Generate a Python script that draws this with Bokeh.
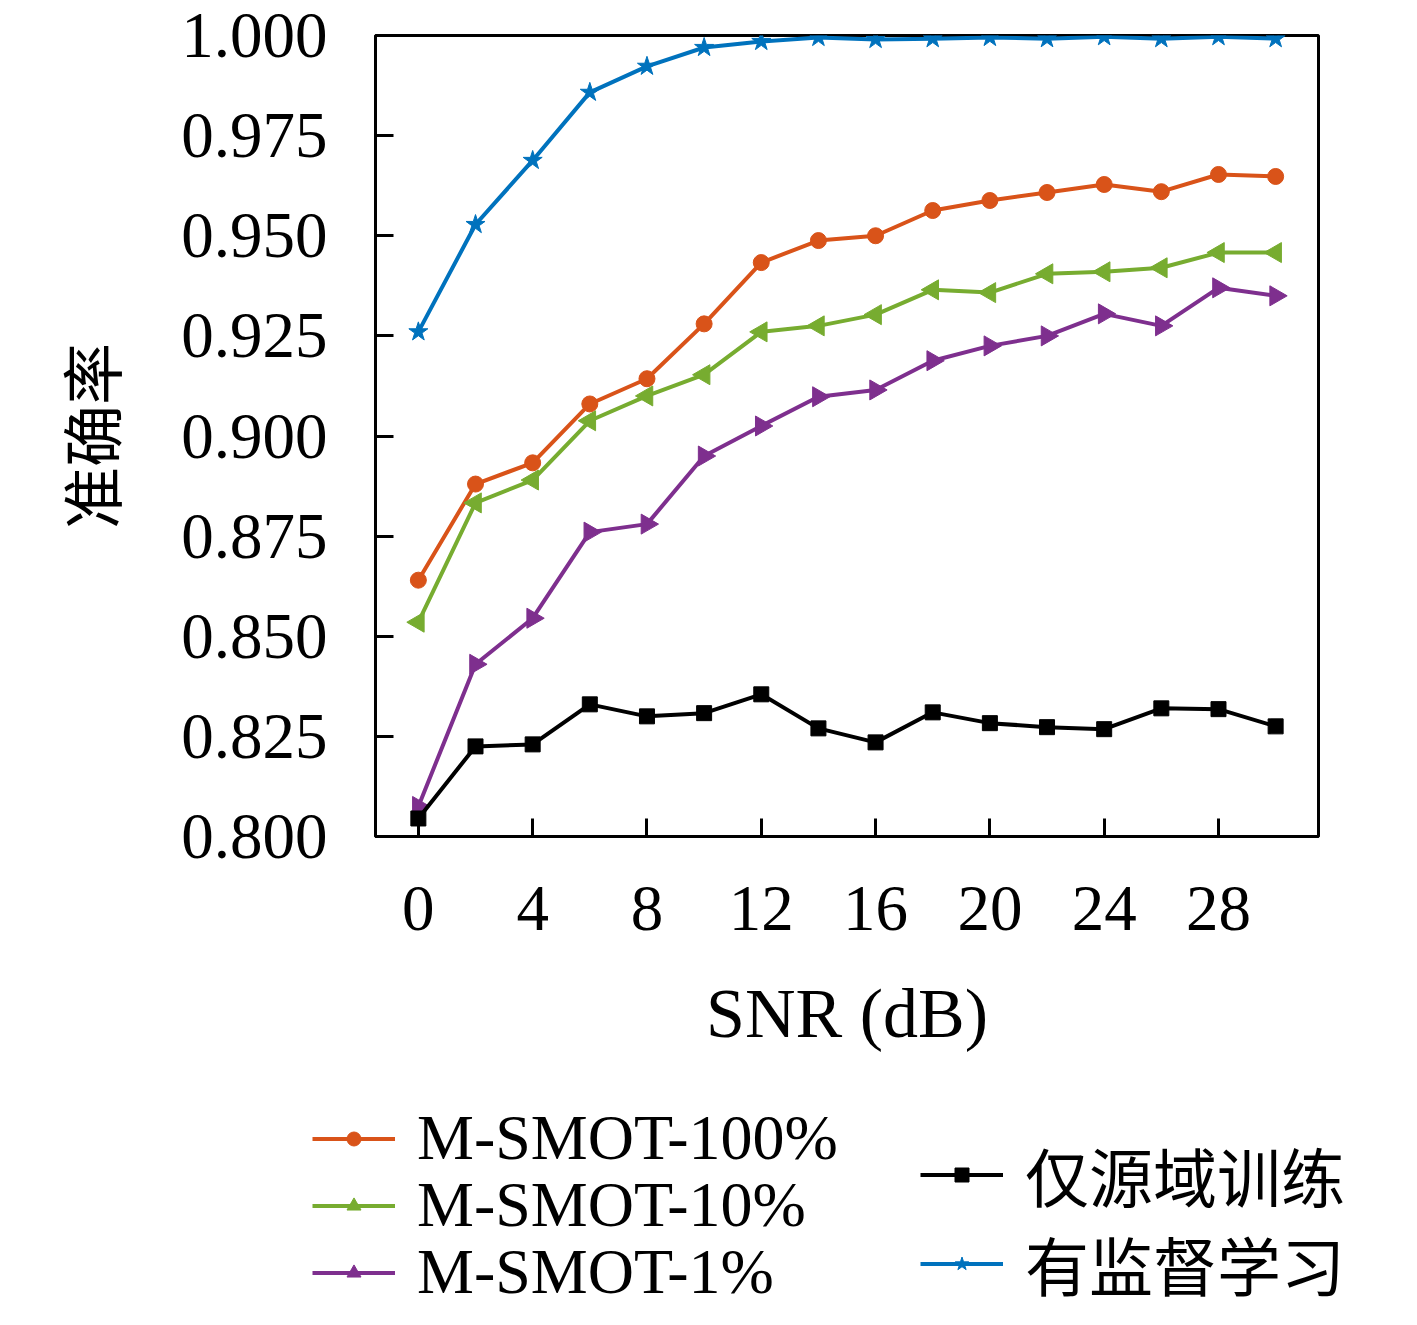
import math
from bokeh.plotting import figure
from bokeh.layouts import column, row
from bokeh.models import Legend, LegendItem, FixedTicker, PrintfTickFormatter, Range1d
from bokeh.embed import file_html
from bokeh.resources import INLINE

snr = [0, 2, 4, 6, 8, 10, 12, 14, 16, 18, 20, 22, 24, 26, 28, 30]
msmot_100 = [0.864, 0.888, 0.8933, 0.908, 0.9143, 0.928, 0.9433, 0.9488, 0.950, 0.9563,
             0.9588, 0.9608, 0.9628, 0.961, 0.9653, 0.9648]
msmot_10 = [0.8535, 0.8833, 0.889, 0.9038, 0.910, 0.9153, 0.926, 0.9275, 0.9303, 0.9365,
            0.9358, 0.9405, 0.941, 0.942, 0.9458, 0.9458]
msmot_1 = [0.8075, 0.843, 0.8545, 0.876, 0.878, 0.895, 0.9025, 0.9098, 0.9115, 0.9188,
           0.9225, 0.925, 0.9305, 0.9275, 0.937, 0.935]
source_only = [0.8045, 0.8225, 0.823, 0.833, 0.830, 0.8308, 0.8355, 0.827, 0.8235, 0.831,
               0.8283, 0.8273, 0.8268, 0.832, 0.8318, 0.8275]
supervised = [0.926, 0.9528, 0.9688, 0.9858, 0.9923, 0.997, 0.9985, 0.9995, 0.999, 0.9992,
              0.9995, 0.9992, 0.9997, 0.9992, 0.9997, 0.9992]

x_ticks = [0, 4, 8, 12, 16, 20, 24, 28]
y_ticks = [0.800, 0.825, 0.850, 0.875, 0.900, 0.925, 0.950, 0.975, 1.000]

labels = ["M-SMOT-100%", "M-SMOT-10%", "M-SMOT-1%", "仅源域训练", "有监督学习"]
x_label = "SNR (dB)"
y_label = "准确率"

SERIF = "Liberation Serif"
CJK = "Noto Sans CJK SC"

W = 1400
H_MAIN = 1080
H_LEG = 229

series = [
    (msmot_100, "#D95319", "circle", 0, 16),
    (msmot_10, "#77AC30", "triangle", math.pi / 2, 20),
    (msmot_1, "#7E2F8E", "triangle", -math.pi / 2, 20),
    (source_only, "black", "square", 0, 15),
    (supervised, "#0072BD", "star", 0, 20),
]


def add_series(fig):
    out = []
    for ys, color, marker, ang, size in series:
        l = fig.line(snr, ys, line_color=color, line_width=4)
        s = fig.scatter(snr, ys, marker=marker, angle=ang, size=size,
                        fill_color=color, line_color=color, line_width=1)
        out.append([l, s])
    return out


# ---- main chart ----
p = figure(width=W, height=H_MAIN, output_backend="svg", toolbar_location=None,
           x_range=Range1d(-1.5, 31.5), y_range=Range1d(0.8, 1.0),
           min_border_left=375, min_border_right=82, min_border_top=35,
           min_border_bottom=H_MAIN - 836)
p.xgrid.visible = False
p.ygrid.visible = False
p.outline_line_color = "black"
p.outline_line_width = 3
p.background_fill_color = "white"
p.border_fill_color = "white"

for ax in (p.xaxis[0], p.yaxis[0]):
    ax.axis_line_width = 3
    ax.axis_line_color = "black"
    ax.major_tick_in = 18
    ax.major_tick_out = 0
    ax.major_tick_line_width = 3
    ax.minor_tick_line_color = None
    ax.major_label_text_font = SERIF
    ax.major_label_text_font_size = "65px"
    ax.major_label_text_color = "black"
    ax.axis_label_text_font_style = "normal"
    ax.axis_label_text_color = "black"

p.xaxis.ticker = FixedTicker(ticks=x_ticks)
p.yaxis.ticker = FixedTicker(ticks=y_ticks)
p.yaxis.formatter = PrintfTickFormatter(format="%.3f")
p.xaxis.major_label_standoff = 50
p.yaxis.major_label_standoff = 48
p.xaxis.axis_label = x_label
p.xaxis.axis_label_text_font = SERIF
p.xaxis.axis_label_text_font_size = "70px"
p.xaxis.axis_label_standoff = 42
p.yaxis.axis_label = y_label
p.yaxis.axis_label_text_font = CJK
p.yaxis.axis_label_text_font_size = "62px"
p.yaxis.axis_label_standoff = 43

add_series(p)

# ---- legend strip (same series, data kept out of its view) ----
q = figure(width=W, height=H_LEG, output_backend="svg", toolbar_location=None,
           x_range=Range1d(1000, 1001), y_range=Range1d(1000, 1001),
           x_axis_type=None, y_axis_type=None,
           min_border_left=0, min_border_right=0, min_border_top=0, min_border_bottom=0)
q.xgrid.visible = False
q.ygrid.visible = False
q.outline_line_color = None
q.background_fill_color = "white"
q.border_fill_color = "white"
leg_rends = add_series(q)

common = dict(padding=0, margin=0, border_line_color=None, background_fill_alpha=0,
              glyph_width=83, glyph_height=35, label_height=70, spacing=0,
              label_text_font_size="64px", label_text_color="black", label_standoff=22)

# one legend per entry so each row can sit where the reference puts it
leg_places = [(312, 134, SERIF), (312, 67, SERIF), (312, 0, SERIF),
              (920, 89, CJK), (920, 0, CJK)]
for i, (lx, ly, font) in enumerate(leg_places):
    leg = Legend(items=[LegendItem(label=labels[i], renderers=leg_rends[i])],
                 location=(lx, ly), label_text_font=font, **common)
    q.add_layout(leg, "center")

open("out.html", "w").write(file_html(column(row(p), row(q)), INLINE))
